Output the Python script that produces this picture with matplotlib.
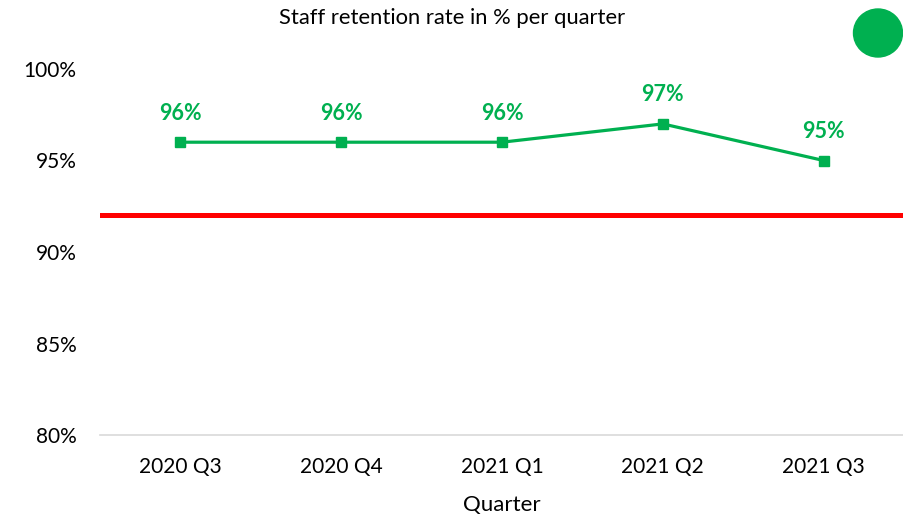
import matplotlib.pyplot as plt
from matplotlib.patches import Ellipse

plt.rcParams['font.family'] = ['Lato', 'DejaVu Sans']

quarters = ['2020 Q3', '2020 Q4', '2021 Q1', '2021 Q2', '2021 Q3']
retention = [96, 96, 96, 97, 95]
target = 92
yticks = [80, 85, 90, 95, 100]

green = '#00B050'

fig = plt.figure(figsize=(9.04, 5.16), dpi=100)
ax = fig.add_axes([100 / 904, (516 - 435) / 516, 804 / 904, 366 / 516])

x = list(range(len(quarters)))
ax.plot(x, retention, color=green, linewidth=2.3, marker='s', markersize=6.5)
for xi, v in zip(x, retention):
    ax.annotate(f'{v}%', (xi, v), xytext=(0, 21), textcoords='offset points',
                ha='center', va='center', color=green, fontsize=15.5, fontweight='bold')

ax.axhline(target, color='#FF0000', linewidth=3.6)

ax.set_xlim(-0.5, len(quarters) - 0.5)
ax.set_ylim(80, 100)
ax.set_xticks(x)
ax.set_xticklabels(quarters, fontsize=15)
ax.set_yticks(yticks)
ax.set_yticklabels([f'{t}%' for t in yticks], fontsize=15)
ax.tick_params(length=0)
ax.tick_params(axis='x', pad=16)
ax.tick_params(axis='y', pad=17)

for s in ['top', 'right', 'left']:
    ax.spines[s].set_visible(False)
ax.spines['bottom'].set_color('#D9D9D9')
ax.spines['bottom'].set_linewidth(1.2)

ax.set_xlabel('Quarter', fontsize=16, labelpad=13)
fig.text(0.5, 1 - 18 / 516, 'Staff retention rate in % per quarter',
         ha='center', va='center', fontsize=15.8)

# status indicator
fig.patches.append(Ellipse((878 / 904, 1 - 33 / 516), 49 / 904, 48 / 516,
                           transform=fig.transFigure, color=green))

fig.savefig('out.png', dpi=100, facecolor='white')
